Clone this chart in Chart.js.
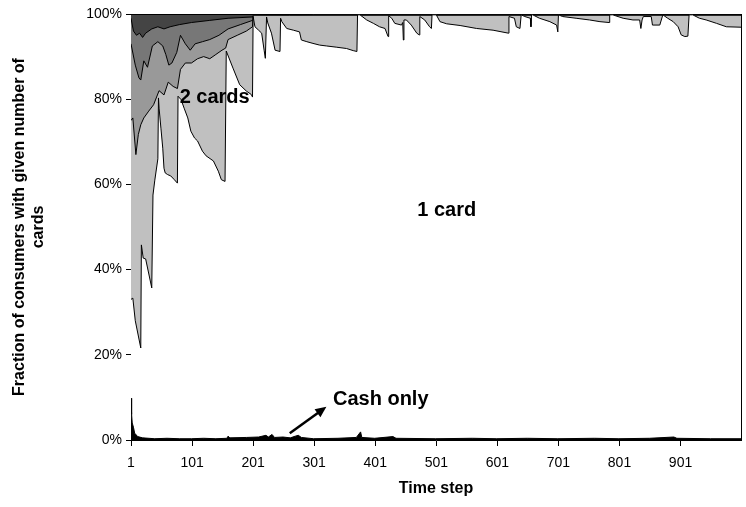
<!DOCTYPE html>
<html>
<head>
<meta charset="utf-8">
<script src="https://cdn.jsdelivr.net/npm/chart.js@4/dist/chart.umd.min.js"></script>
<style>
  body { margin: 0; background: #fff; }
  #wrap { width: 746px; height: 507px; }
</style>
</head>
<body>
<div id="wrap"><canvas id="cards" width="746" height="507"></canvas></div>
<script>
// tick positions on the time axis
var timeTicks = [1, 101, 201, 301, 401, 501, 601, 701, 801, 901];

// upper edge of each band, [time step, cumulative % of consumers]
var cashTop = [[1, 9.8], [2, 6], [3, 4], [5, 3], [7, 1.6], [12, 0.8], [20, 0.5], [40, 0.3], [60, 0.4],
    [80, 0.3], [100, 0.3], [120, 0.4], [140, 0.3], [158, 0.4], [160, 0.9], [163, 0.5], [190, 0.6],
    [210, 0.7], [222, 1.1], [226, 0.7], [232, 1.3], [236, 0.6], [250, 0.7], [262, 0.5], [270, 0.9],
    [275, 1.1], [280, 0.6], [300, 0.3], [340, 0.4], [370, 0.6], [377, 1.9], [379, 0.6], [400, 0.4],
    [430, 0.8], [435, 0.4], [500, 0.3], [560, 0.4], [600, 0.3], [650, 0.4], [700, 0.3], [760, 0.4],
    [800, 0.3], [850, 0.4], [890, 0.7], [895, 0.4], [950, 0.3], [1000, 0.3]];

var oneCardTop = [[1, 33], [4, 33.3], [8, 28], [17, 21.6], [18, 45.8], [21, 42.7], [25, 42.5], [35, 35.7],
    [37, 57.5], [40, 61], [45, 66], [46, 80.3], [47, 77.9], [50, 73.2], [53, 68.5], [55, 63.8], [57, 62.7],
    [61, 62.3], [66, 62], [72, 61.1], [77, 60.3], [78, 80.7], [83, 79.9], [88, 77.9], [94, 75.6], [99, 72.5],
    [105, 70.9], [110, 70.2], [118, 67.8], [124, 66.7], [136, 65.5], [144, 63.1], [149, 61.1], [155, 60.7],
    [157, 91.3], [168, 87.3], [179, 83.4], [190, 81.9], [198, 81.1], [200, 80.5], [201, 99.4], [204, 97],
    [210, 96.2], [215, 95.5], [219, 91.5], [221, 89.6], [223, 99.3], [225, 97.9], [231, 95.5], [237, 91.5],
    [245, 91.2], [246, 99], [248, 98.2], [256, 96.6], [267, 96.2], [277, 95.8], [280, 93.9], [289, 93.5],
    [299, 93.1], [310, 92.7], [321, 92.5], [338, 92.2], [354, 91.9], [365, 91.4], [371, 91.2], [372, 99.8],
    [376, 99.8], [387, 98.6], [398, 97.8], [408, 97], [417, 96.6], [422, 94.7], [423, 99.6], [428, 99],
    [433, 97.8], [444, 97.4], [446, 98], [447, 93.9], [448, 98.6], [452, 98.6], [460, 97.4], [469, 95.5],
    [473, 95.1], [474, 99.4], [482, 98.6], [490, 97], [493, 96.6], [494, 99.8], [501, 99.8], [507, 98.2],
    [518, 97.7], [540, 97.3], [567, 96.6], [594, 96.2], [619, 95.5], [620, 99.4], [629, 99], [632, 97],
    [638, 96.6], [640, 99.8], [646, 99.4], [655, 99], [656, 97], [657, 99.8], [659, 99.8], [670, 99],
    [687, 98.2], [698, 97.4], [700, 95.8], [701, 99.8], [708, 99.4], [730, 99], [752, 98.6], [769, 98.2],
    [784, 98], [785, 99.8], [790, 99.8], [807, 99], [823, 98.6], [834, 98.6], [836, 96.6], [838, 98.6],
    [840, 99.4], [853, 99.4], [855, 97.4], [867, 97.4], [872, 99.8], [880, 99], [889, 98.2], [897, 97],
    [902, 95.1], [908, 94.7], [913, 94.8], [915, 99.8], [921, 99.8], [932, 99], [943, 98.6], [960, 97.8],
    [976, 97], [1000, 96.9]];

var twoCardTop = [[1, 75], [4, 75.6], [9, 67], [13, 71.7], [17, 74], [22, 75.6], [30, 77.2], [38, 78.7],
    [47, 82], [55, 81], [62, 84], [70, 83], [77, 82.5], [82, 87], [90, 88.5], [100, 88.5], [110, 89.5],
    [120, 90], [130, 89.5], [140, 90.5], [150, 91.5], [156, 92], [160, 94], [175, 95], [190, 96],
    [200, 97], [201, 99.7], [260, 99.7], [1000, 99.7]];

var threeCardTop = [[1, 93], [8, 88], [14, 85], [17, 84.5], [22, 89], [28, 87.5], [36, 92.5], [45, 93.5],
    [53, 92.5], [58, 90.5], [63, 88], [68, 88.5], [76, 91], [82, 95], [90, 93], [98, 91.5], [106, 93],
    [118, 93.5], [130, 94], [145, 95], [160, 96.5], [180, 97.5], [200, 98.5], [220, 99], [250, 99.5],
    [300, 99.8], [1000, 99.85]];

var fourCardTop = [[1, 99], [5, 96], [10, 95], [15, 95.5], [20, 94.5], [25, 95.5], [35, 96.5], [45, 97],
    [55, 96.5], [65, 97], [80, 97.5], [100, 98], [130, 98.5], [160, 99], [200, 99.3], [260, 99.7],
    [300, 99.9], [1000, 99.9]];

var allTop = [[1, 100], [1000, 100]];

var FONT = '"Liberation Sans", Arial, sans-serif';
Chart.defaults.font.family = FONT;
Chart.defaults.color = '#000';

function band(data, fillColor, lineWidth) {
    return {
        data: data,
        fill: 'origin',
        backgroundColor: fillColor,
        borderColor: '#000',
        borderWidth: lineWidth || 1,
        pointRadius: 0,
        tension: 0
    };
}

// text labels and the arrow drawn over the plot
var notes = {
    id: 'notes',
    afterDatasetsDraw: function (chart) {
        var ctx = chart.ctx;
        var x = chart.scales.x, y = chart.scales.y;
        var area = chart.chartArea;
        ctx.save();
        ctx.strokeStyle = '#000';
        ctx.lineWidth = 1;
        ctx.beginPath();
        ctx.moveTo(area.right + 0.5, area.top);
        ctx.lineTo(area.right + 0.5, area.bottom);
        ctx.stroke();

        ctx.fillStyle = '#000';
        ctx.font = 'bold 20px ' + FONT;
        ctx.textAlign = 'center';
        ctx.textBaseline = 'middle';
        ctx.fillText('1 card', x.getPixelForValue(518), y.getPixelForValue(53.8));
        ctx.fillText('2 cards', x.getPixelForValue(138), y.getPixelForValue(80.3));
        ctx.fillText('Cash only', x.getPixelForValue(410), y.getPixelForValue(9.4));

        // arrow pointing at the cash band
        var x0 = x.getPixelForValue(261), y0 = y.getPixelForValue(1.6);
        var x1 = x.getPixelForValue(321), y1 = y.getPixelForValue(7.8);
        var ang = Math.atan2(y1 - y0, x1 - x0);
        ctx.lineWidth = 2.5;
        ctx.beginPath();
        ctx.moveTo(x0, y0);
        ctx.lineTo(x1 - 8 * Math.cos(ang), y1 - 8 * Math.sin(ang));
        ctx.stroke();
        ctx.beginPath();
        ctx.moveTo(x1, y1);
        ctx.lineTo(x1 - 11 * Math.cos(ang) + 5 * Math.sin(ang), y1 - 11 * Math.sin(ang) - 5 * Math.cos(ang));
        ctx.lineTo(x1 - 11 * Math.cos(ang) - 5 * Math.sin(ang), y1 - 11 * Math.sin(ang) + 5 * Math.cos(ang));
        ctx.closePath();
        ctx.fill();
        ctx.restore();
    }
};

// dataset 0 is painted last, so the lower bands sit on top of the upper ones
new Chart(document.getElementById('cards'), {
    type: 'line',
    data: {
        datasets: [
            band(cashTop, '#000000'),
            band(oneCardTop, '#ffffff'),
            band(twoCardTop, '#c0c0c0'),
            band(threeCardTop, '#999999'),
            band(fourCardTop, '#777777'),
            band(allTop, '#444444', 2)
        ]
    },
    options: {
        responsive: false,
        animation: false,
        layout: { padding: { left: 0, right: 5, top: 14, bottom: 0 } },
        plugins: {
            legend: { display: false },
            tooltip: { enabled: false }
        },
        scales: {
            x: {
                type: 'linear',
                min: 1,
                max: 1000,
                afterBuildTicks: function (axis) {
                    axis.ticks = timeTicks.map(function (v) { return { value: v }; });
                },
                afterFit: function (axis) { axis.height = 67; },
                grid: { drawOnChartArea: false, tickLength: 6, color: '#000' },
                border: { color: '#000' },
                ticks: { font: { size: 14 }, color: '#000', padding: 9, maxRotation: 0, autoSkip: false },
                title: {
                    display: true,
                    text: 'Time step',
                    font: { size: 16, weight: 'bold' },
                    color: '#000',
                    padding: { top: 0, bottom: 9 }
                }
            },
            y: {
                min: 0,
                max: 100,
                afterFit: function (axis) { axis.width = 131; },
                grid: { drawOnChartArea: false, tickLength: 5, color: '#000' },
                border: { color: '#000' },
                ticks: {
                    stepSize: 20,
                    font: { size: 14 },
                    color: '#000',
                    padding: 4,
                    callback: function (v) { return v + '%'; }
                },
                title: {
                    display: true,
                    text: ['Fraction of consumers with given number of', 'cards'],
                    font: { size: 16, weight: 'bold' },
                    color: '#000',
                    padding: { top: 10, bottom: 0 }
                }
            }
        }
    },
    plugins: [notes]
});
</script>
</body>
</html>
